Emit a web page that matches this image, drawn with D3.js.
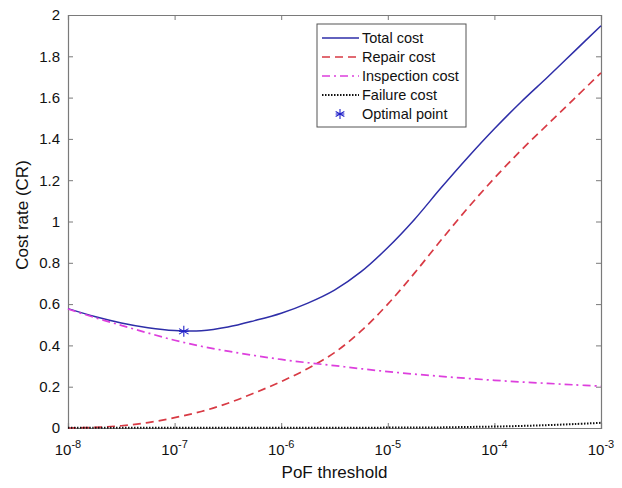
<!DOCTYPE html>
<html><head><meta charset="utf-8">
<script src="https://cdn.jsdelivr.net/npm/d3@7"></script>
<style>body{margin:0;background:#fff}svg{display:block}text{font-family:"Liberation Sans",Arial,sans-serif}</style>
</head><body><svg id="c" width="622" height="488"></svg>
<script>
// PoF threshold exponents (log10)
const exps = [-8,-7.75,-7.5,-7.25,-7,-6.75,-6.5,-6.25,-6,-5.75,-5.5,-5.25,-5,-4.75,-4.5,-4.25,-4,-3.75,-3.5,-3.25,-3];
const totalCost = [0.578,0.54,0.509,0.486,0.472,0.471,0.489,0.52,0.556,0.605,0.668,0.757,0.874,1.01,1.163,1.31,1.449,1.579,1.70,1.824,1.948];
const repairCost = [0.0,0.003,0.011,0.026,0.05,0.08,0.12,0.17,0.225,0.288,0.365,0.47,0.60,0.75,0.91,1.065,1.21,1.345,1.47,1.595,1.72];
const inspectionCost = [0.576,0.535,0.497,0.46,0.425,0.396,0.372,0.351,0.332,0.316,0.302,0.287,0.273,0.261,0.25,0.24,0.231,0.223,0.216,0.209,0.203];
const failureCost = [0.001,0.001,0.001,0.001,0.001,0.001,0.001,0.001,0.001,0.001,0.001,0.001,0.002,0.002,0.003,0.005,0.007,0.01,0.014,0.019,0.025];
const optimalPoint = {x: 1.22e-7, y: 0.468};
const xTicks = [1e-8,1e-7,1e-6,1e-5,1e-4,1e-3];
const yTicks = [0,0.2,0.4,0.6,0.8,1,1.2,1.4,1.6,1.8,2];
const seriesNames = ["Total cost","Repair cost","Inspection cost","Failure cost","Optimal point"];

const svg = d3.select("#c");
const L=68, R=601, T=15, B=428;
const x = d3.scaleLog().domain([1e-8,1e-3]).range([L,R]);
const y = d3.scaleLinear().domain([0,2]).range([B,T]);

const series = [
  {v: totalCost, color:"#2e2ea8", dash:null, w:1.5},
  {v: repairCost, color:"#d83a44", dash:"8,5", w:1.7},
  {v: inspectionCost, color:"#dd3fdd", dash:"8,4,2,4", w:1.7},
  {v: failureCost, color:"#111", dash:"1.5,1.5", w:2}
];
const line = d3.line().curve(d3.curveCatmullRom.alpha(0.5));

// axes box
const gx = svg.append("g").attr("transform",`translate(0,${B})`)
  .call(d3.axisBottom(x).tickValues(xTicks).tickSize(-5).tickFormat(""));
const gxt = svg.append("g").attr("transform",`translate(0,${T})`)
  .call(d3.axisTop(x).tickValues(xTicks).tickSize(-5).tickFormat(""));
const gy = svg.append("g").attr("transform",`translate(${L},0)`)
  .call(d3.axisLeft(y).tickValues(yTicks).tickSize(-5).tickPadding(8).tickFormat(d3.format("~g")));
const gyr = svg.append("g").attr("transform",`translate(${R},0)`)
  .call(d3.axisRight(y).tickValues(yTicks).tickSize(-5).tickFormat(""));
[gx,gxt,gy,gyr].forEach(g=>{
  g.select(".domain").attr("stroke","#7a7a7a").attr("stroke-width",1.2);
  g.selectAll(".tick line").attr("stroke","#7a7a7a");
});
gy.selectAll(".tick text").attr("font-size",15).attr("fill","#111").attr("font-family","Liberation Sans, Arial, sans-serif");

// x tick labels with superscripts
xTicks.forEach(t=>{
  const e = Math.round(Math.log10(t));
  const tx = svg.append("text").attr("x",x(t)).attr("y",455).attr("text-anchor","middle")
    .attr("font-size",15).attr("fill","#111");
  tx.append("tspan").text("10");
  tx.append("tspan").attr("dy",-7).attr("font-size",11).text(String(e));
});

// lines
series.forEach(s=>{
  const pts = exps.map((e,i)=>[x(Math.pow(10,e)), y(s.v[i])]);
  svg.append("path").attr("d",line(pts)).attr("fill","none")
    .attr("stroke",s.color).attr("stroke-width",s.w)
    .attr("stroke-dasharray",s.dash);
});

// optimal point asterisk
function star(g, cx, cy, r, color){
  const a=[0,60,120].map(d=>d*Math.PI/180);
  a.forEach(an=>{
    g.append("line").attr("x1",cx+r*Math.sin(an)).attr("y1",cy-r*Math.cos(an))
      .attr("x2",cx-r*Math.sin(an)).attr("y2",cy+r*Math.cos(an)).attr("stroke",color).attr("stroke-width",1.1);
  });
  g.append("line").attr("x1",cx-r*0.87).attr("y1",cy).attr("x2",cx+r*0.87).attr("y2",cy).attr("stroke",color).attr("stroke-width",1.1);
}
star(svg, x(optimalPoint.x), y(optimalPoint.y), 5.5, "#2020c8");

// axis labels
svg.append("text").attr("x",(L+R)/2).attr("y",478).attr("text-anchor","middle").attr("font-size",17).attr("fill","#111").text("PoF threshold");
svg.append("text").attr("transform",`translate(28,215) rotate(-90)`).attr("text-anchor","middle").attr("font-size",17).attr("fill","#111").text("Cost rate (CR)");

// legend
const lg = svg.append("g");
lg.append("rect").attr("x",317).attr("y",24).attr("width",149).attr("height",103).attr("fill","#fff").attr("stroke","#555").attr("stroke-width",1);
const ly0 = 38, ldy = 19;
series.forEach((s,i)=>{
  lg.append("line").attr("x1",322).attr("x2",359).attr("y1",ly0+i*ldy).attr("y2",ly0+i*ldy)
    .attr("stroke",s.color).attr("stroke-width",s.w).attr("stroke-dasharray",s.dash);
});
star(lg, 340, ly0+4*ldy, 5, "#2020c8");
seriesNames.forEach((n,i)=>{
  lg.append("text").attr("x",362).attr("y",ly0+i*ldy+5).attr("font-size",14.5).attr("fill","#111").text(n);
});
</script></body></html>
